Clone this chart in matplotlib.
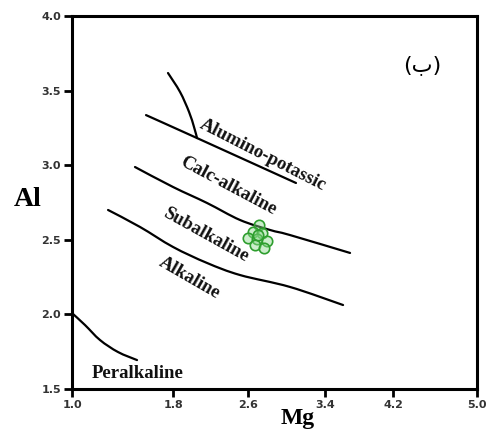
import matplotlib
matplotlib.use("Agg")
import matplotlib.pyplot as plt
from matplotlib.path import Path
from matplotlib.patches import PathPatch
from matplotlib.ticker import FixedLocator, FixedFormatter

# boundary curves (Mg, Al)
peralk_x = [1.0, 1.128, 1.277, 1.454, 1.642]
peralk_y = [2.009, 1.929, 1.828, 1.748, 1.694]

alk_x = [1.356, 1.672, 1.998, 2.333, 2.659, 3.153, 3.677]
alk_y = [2.700, 2.586, 2.452, 2.345, 2.264, 2.184, 2.063]

calc_x = [1.622, 1.998, 2.333, 2.659, 2.956, 3.153, 3.746]
calc_y = [2.988, 2.854, 2.747, 2.633, 2.566, 2.532, 2.412]

alum_x = [1.731, 2.235, 3.212]
alum_y = [3.336, 3.182, 2.881]

branch_x = [1.948, 2.067, 2.156, 2.205, 2.235]
branch_y = [3.618, 3.491, 3.357, 3.256, 3.182]

# biotite samples
sample_mg = [2.847, 2.788, 2.877, 2.738, 2.827, 2.926, 2.807, 2.896, 2.84]
sample_al = [2.599, 2.552, 2.546, 2.512, 2.505, 2.492, 2.465, 2.445, 2.53]

# ticks as printed on the (scanned) axis
mg_tick_pos = [1.0, 1.998, 2.738, 3.499, 4.170, 5.0]
mg_tick_lab = ["1.0", "1.8", "2.6", "3.4", "4.2", "5.0"]
al_ticks = [1.5, 2.0, 2.5, 3.0, 3.5, 4.0]


def smooth_path(xs, ys):
    """Catmull-Rom through the points, drawn as cubic Bezier segments."""
    pts = list(zip(xs, ys))
    verts, codes = [pts[0]], [Path.MOVETO]
    for i in range(len(pts) - 1):
        p0 = pts[i - 1] if i > 0 else pts[i]
        p1, p2 = pts[i], pts[i + 1]
        p3 = pts[i + 2] if i + 2 < len(pts) else p2
        c1 = (p1[0] + (p2[0] - p0[0]) / 6, p1[1] + (p2[1] - p0[1]) / 6)
        c2 = (p2[0] - (p3[0] - p1[0]) / 6, p2[1] - (p3[1] - p1[1]) / 6)
        verts += [c1, c2, p2]
        codes += [Path.CURVE4] * 3
    return Path(verts, codes)


fig = plt.figure(figsize=(4.96, 4.32), dpi=100)
ax = fig.add_axes([0.1452, 0.0995, 0.8165, 0.8634])

for xs, ys in [(peralk_x, peralk_y), (alk_x, alk_y), (calc_x, calc_y),
               (alum_x, alum_y), (branch_x, branch_y)]:
    ax.add_patch(PathPatch(smooth_path(xs, ys), fill=False, ec="black",
                           lw=1.6, capstyle="round"))

ax.plot(sample_mg, sample_al, "o", ms=7.5, mfc=(0.55, 0.85, 0.55, 0.45),
        mec="#2e9e2e", mew=1.2, ls="none")

serif = ["Liberation Serif", "DejaVu Serif"]
lab_kw = dict(fontsize=13.5, fontweight="bold", family=serif,
              ha="center", va="center", color="#111111")
ax.text(2.886, 3.068, "Alumino-potassic", rotation=-27, **lab_kw)
ax.text(2.541, 2.861, "Calc-alkaline", rotation=-28, **lab_kw)
ax.text(2.323, 2.532, "Subalkaline", rotation=-29, **lab_kw)
ax.text(2.156, 2.244, "Alkaline", rotation=-30, **lab_kw)
ax.text(1.652, 1.607, "Peralkaline", **lab_kw)
ax.text(4.457, 3.672, "(ب)", fontsize=16, family=["DejaVu Sans"],
        ha="center", va="center", color="black")

ax.set_xlim(1.0, 5.0)
ax.set_ylim(1.5, 4.0)
ax.xaxis.set_major_locator(FixedLocator(mg_tick_pos))
ax.xaxis.set_major_formatter(FixedFormatter(mg_tick_lab))
ax.set_yticks(al_ticks)
ax.set_yticklabels([f"{v:.1f}" for v in al_ticks])

for sp in ax.spines.values():
    sp.set_linewidth(2.2)
ax.tick_params(direction="out", length=6, width=2, labelsize=8,
               labelcolor="#333333", pad=2)
for t in ax.get_xticklabels() + ax.get_yticklabels():
    t.set_fontweight("bold")

ax.set_xlabel("Mg", fontsize=17, fontweight="bold", family=serif)
ax.xaxis.set_label_coords(0.558, -0.05)
ax.xaxis.label.set_va("top")
ax.set_ylabel("Al", fontsize=20, fontweight="bold", family=serif, rotation=0)
ax.yaxis.set_label_coords(-0.109, 0.507)
ax.yaxis.label.set_va("center")
ax.yaxis.label.set_ha("center")

fig.savefig("out.png", dpi=100, facecolor="white")
